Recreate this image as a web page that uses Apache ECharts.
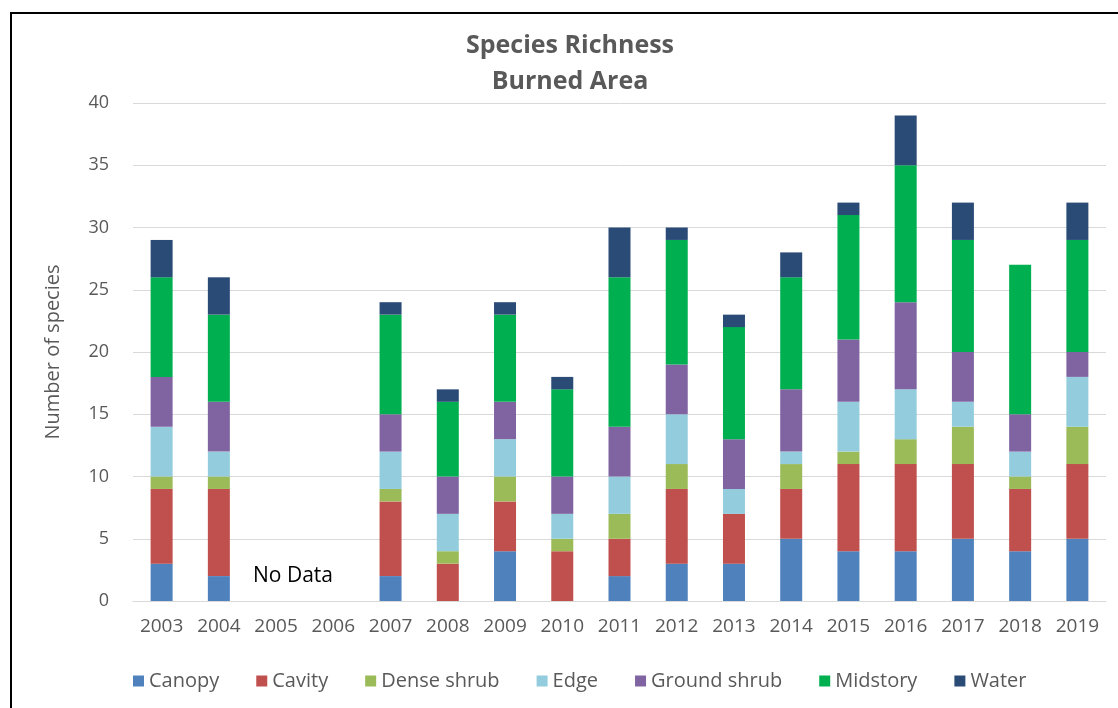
<!DOCTYPE html>
<html lang="en">
<head>
    <meta charset="utf-8">
    <title>Species Richness - Burned Area</title>
    <script src="https://cdn.jsdelivr.net/npm/echarts@6/dist/echarts.min.js"></script>
    <style>
        body { margin: 0; background: #fff; }
        #frame { position: absolute; left: 10px; top: 12px; width: 1120px; height: 710px; border: 2px solid #000; box-sizing: border-box; }
        #main { position: absolute; left: 0; top: 0; width: 1118px; height: 708px; }
    </style>
</head>
<body>
<div id="frame"></div>
<div id="main"></div>

<script type="text/javascript">
    // 年份 / 各类物种数
    var years = ['2003', '2004', '2005', '2006', '2007', '2008', '2009', '2010', '2011',
        '2012', '2013', '2014', '2015', '2016', '2017', '2018', '2019'];
    var canopy     = [3, 2, 0, 0, 2, 0, 4, 0, 2, 3, 3, 5, 4, 4, 5, 4, 5];
    var cavity     = [6, 7, 0, 0, 6, 3, 4, 4, 3, 6, 4, 4, 7, 7, 6, 5, 6];
    var denseShrub = [1, 1, 0, 0, 1, 1, 2, 1, 2, 2, 0, 2, 1, 2, 3, 1, 3];
    var edge       = [4, 2, 0, 0, 3, 3, 3, 2, 3, 4, 2, 1, 4, 4, 2, 2, 4];
    var ground     = [4, 4, 0, 0, 3, 3, 3, 3, 4, 4, 4, 5, 5, 7, 4, 3, 2];
    var midstory   = [8, 7, 0, 0, 8, 6, 7, 7, 12, 10, 9, 9, 10, 11, 9, 12, 9];
    var water      = [3, 3, 0, 0, 1, 1, 1, 1, 4, 1, 1, 2, 1, 4, 3, 0, 3];
    var yTicks = [0, 5, 10, 15, 20, 25, 30, 35, 40];

    var names  = ['Canopy', 'Cavity', 'Dense shrub', 'Edge', 'Ground shrub', 'Midstory', 'Water'];
    var colors = ['#4F81BD', '#C0504D', '#9BBB59', '#93CDDD', '#8064A2', '#00B050', '#2A4B76'];
    var values = [canopy, cavity, denseShrub, edge, ground, midstory, water];

    var font = '"Open Sans", "Noto Sans", sans-serif';
    var gray = '#595959';

    var myChart = echarts.init(document.getElementById('main'));

    var series = names.map(function (n, i) {
        return {
            name: n,
            type: 'bar',
            stack: 'total',
            barWidth: 22,
            itemStyle: { color: colors[i] },
            data: values[i].map(function (v) { return v === 0 ? null : v; })
        };
    });

    myChart.setOption({
        animation: false,
        title: {
            text: 'Species Richness\nBurned Area',
            left: 565,
            top: 23,
            textAlign: 'center',
            textStyle: { fontFamily: font, fontSize: 25, fontWeight: 'bold', color: gray, lineHeight: 36 }
        },
        legend: {
            data: names,
            left: 128,
            top: 666,
            itemWidth: 11,
            itemHeight: 11,
            itemGap: 37,
            icon: 'rect',
            textStyle: { fontFamily: font, fontSize: 20, color: gray }
        },
        grid: { left: 133, right: 12, top: 103, bottom: 107 },
        xAxis: {
            type: 'category',
            data: years,
            axisTick: { show: false },
            axisLine: { lineStyle: { color: '#d9d9d9' } },
            axisLabel: { fontFamily: font, fontSize: 19, color: gray, margin: 16 }
        },
        yAxis: {
            type: 'value',
            min: yTicks[0],
            max: yTicks[yTicks.length - 1],
            interval: 5,
            name: 'Number of species',
            nameLocation: 'middle',
            nameGap: 70,
            nameTextStyle: { fontFamily: font, fontSize: 20, color: gray },
            axisLabel: { fontFamily: font, fontSize: 18, color: gray, margin: 24 },
            splitLine: { lineStyle: { color: '#d9d9d9' } }
        },
        graphic: [{
            type: 'text',
            left: 253,
            top: 566,
            style: { text: 'No Data', fontFamily: font, fontSize: 21, fill: '#000' }
        }],
        series: series
    });
</script>
</body>
</html>
